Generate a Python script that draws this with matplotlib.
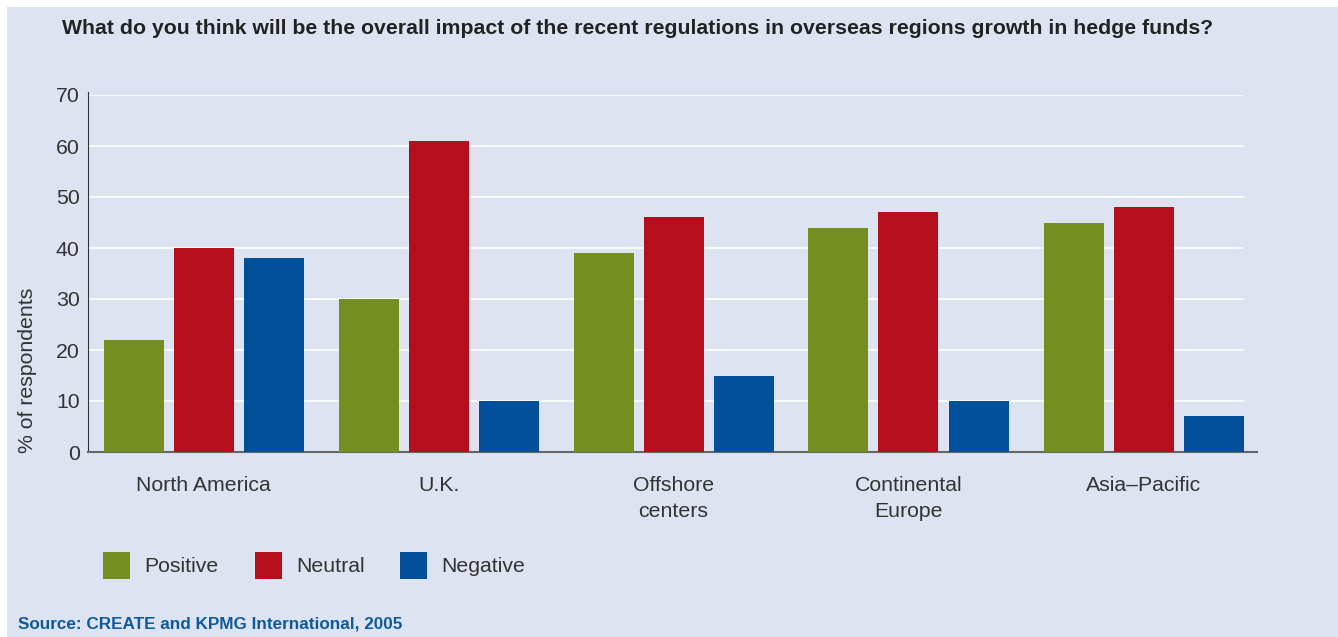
import matplotlib.pyplot as plt
import numpy as np
from matplotlib.patches import Rectangle

plt.rcParams['font.family'] = ['Liberation Sans', 'DejaVu Sans']

regions = ['North America', 'U.K.', 'Offshore\ncenters', 'Continental\nEurope', 'Asia\u2013Pacific']
series = ['Positive', 'Neutral', 'Negative']
positive = [22, 30, 39, 44, 45]
neutral = [40, 61, 46, 47, 48]
negative = [38, 10, 15, 10, 7]
colors = ['#768d1f', '#b50e1d', '#02509a']

bg = '#dde3f1'
txt = '#333333'
fs = 15.3
W, H = 1338, 637
fig = plt.figure(figsize=(W / 100, H / 100), dpi=100)
fig.patch.set_facecolor('white')
fig.add_artist(Rectangle((7 / W, 0), 1, 1 - 7 / H, transform=fig.transFigure,
                         facecolor=bg, edgecolor='none', zorder=0))

ax = fig.add_axes([88 / W, 1 - 452 / H, (1257 - 88) / W, (452 - 95) / H])
ax.patch.set_visible(False)

x = np.arange(len(regions))
width = 60 / 235
step = 70 / 235
for i, (vals, c) in enumerate(zip([positive, neutral, negative], colors)):
    ax.bar(x + (i - 1) * step, vals, width, color=c, zorder=3)

ax.set_xlim((88 - 203.5) / 235, (1257 - 203.5) / 235)
ax.set_ylim(0, 70)
ax.set_yticks(range(0, 71, 10))
ax.tick_params(axis='y', length=0, pad=6, labelsize=fs, labelcolor=txt)
ax.tick_params(axis='x', length=0, pad=17.5, labelsize=fs, labelcolor=txt)
ax.set_xticks(x)
ax.set_xticklabels(regions, linespacing=1.47, va='top')

# grid lines stop at the last bar
gx_end = (1243 - 203.5) / 235
for yv in range(10, 71, 10):
    ax.plot([ax.get_xlim()[0], gx_end], [yv, yv], color='white', lw=1.2, zorder=1)

for s in ['top', 'right']:
    ax.spines[s].set_visible(False)
ax.spines['left'].set_color(txt)
ax.spines['left'].set_bounds(0, 70.5)
ax.spines['bottom'].set_color('#666666')
ax.spines['bottom'].set_linewidth(1.5)

fig.text(28 / W, 1 - 370 / H, '% of respondents', rotation=90, ha='center', va='center',
         fontsize=fs, color=txt)

fig.text(62 / W, 1 - 28 / H, 'What do you think will be the overall impact of the recent regulations '
         'in overseas regions growth in hedge funds?', fontsize=15.3, fontweight='bold',
         color='#222222', va='center', ha='left')

fig.text(18 / W, 1 - 624 / H, 'Source: CREATE and KPMG International, 2005', fontsize=12.3,
         fontweight='bold', color='#0e5a9c', va='center', ha='left')

# legend
leg_x = [103, 255, 400]
for lx, name, c in zip(leg_x, series, colors):
    fig.add_artist(Rectangle((lx / W, 1 - 579 / H), 27 / W, 27 / H, transform=fig.transFigure,
                             facecolor=c, edgecolor='none'))
    fig.text((lx + 41) / W, 1 - 566 / H, name, fontsize=fs, color=txt,
             va='center', ha='left')

fig.savefig('out.png', dpi=100, facecolor=fig.get_facecolor())
